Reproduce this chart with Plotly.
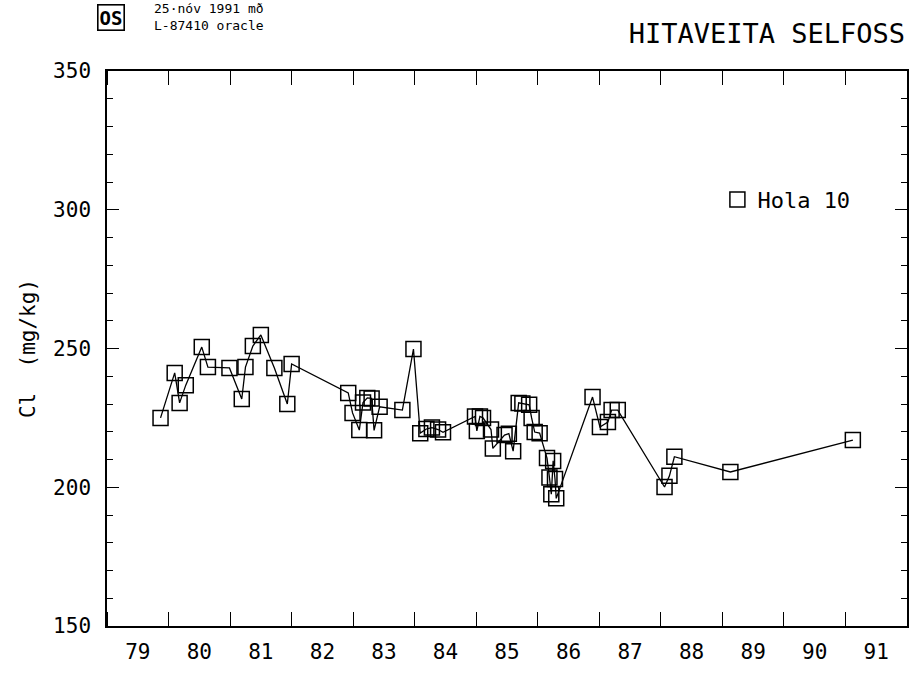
import plotly.graph_objects as go

# Chloride in well "Hola 10", Hitaveita Selfoss (decimal year, mg/kg)
years = [
    1979.87, 1980.10, 1980.18, 1980.28, 1980.54, 1980.64, 1980.99, 1981.19,
    1981.25, 1981.37, 1981.50, 1981.72, 1981.93, 1982.00,
    1982.92, 1982.99, 1983.10, 1983.16, 1983.23, 1983.30, 1983.34, 1983.43,
    1983.80, 1983.98, 1984.09, 1984.19, 1984.28, 1984.38, 1984.46,
    1984.98, 1985.01, 1985.06, 1985.11, 1985.24, 1985.27, 1985.46, 1985.53,
    1985.60, 1985.69, 1985.75, 1985.86, 1985.90, 1985.95, 1986.03,
    1986.15, 1986.19, 1986.22, 1986.25, 1986.28, 1986.30,
    1986.89, 1987.01, 1987.14, 1987.20, 1987.30,
    1988.06, 1988.14, 1988.22, 1989.13, 1991.12,
]
chloride = [
    225.0, 241.2, 230.4, 236.8, 250.5, 243.3, 243.0, 231.8,
    243.3, 250.9, 254.9, 243.0, 230.0, 244.4,
    234.0, 226.8, 220.6, 230.5, 232.2, 232.0, 220.5, 229.0,
    227.8, 249.8, 219.5, 221.0, 221.5, 220.8, 219.8,
    225.5, 220.3, 225.5, 225.0, 220.8, 214.0, 218.8, 219.3,
    213.0, 230.4, 230.2, 229.7, 225.0, 219.9, 219.5,
    210.5, 203.5, 197.5, 209.5, 203.0, 196.0,
    232.5, 221.7, 223.5, 227.8, 227.8,
    200.1, 204.1, 211.0, 205.5, 217.0,
]

year_labels = [str(y) for y in range(79, 92)]
label_pos = [1900 + int(s) + 0.5 for s in year_labels]
y_ticks = [150, 200, 250, 300, 350]

FONT = "DejaVu Sans Mono"
INK = "black"
MARKER = dict(symbol="square-open", size=15, color=INK,
              line=dict(color=INK, width=1.5))

fig = go.Figure()
fig.add_trace(go.Scatter(
    x=years, y=chloride, mode="lines+markers", name="Hola 10",
    line=dict(color=INK, width=1.3), marker=MARKER, showlegend=False,
))
# legend entry shows the symbol alone
fig.add_trace(go.Scatter(
    x=[None], y=[None], mode="markers", name="Hola 10", marker=MARKER,
))

fig.update_layout(
    width=916, height=675,
    margin=dict(l=107, r=7, t=71, b=49),
    paper_bgcolor="white", plot_bgcolor="white",
    font=dict(family=FONT, color=INK, size=21),
    showlegend=True,
    legend=dict(x=0.763, y=0.768, xanchor="left", yanchor="middle",
                bgcolor="rgba(0,0,0,0)", font=dict(size=22)),
    title=dict(text="HITAVEITA SELFOSS", x=0.988, xanchor="right",
               y=0.951, yanchor="middle", font=dict(family=FONT, size=27)),
)

fig.update_xaxes(
    range=[1979, 1992], showgrid=False, zeroline=False,
    showline=True, linecolor=INK, linewidth=1.5, mirror="allticks",
    tickmode="array", tickvals=label_pos, ticktext=year_labels,
    ticks="", ticklabelstandoff=6,
    tickfont=dict(family=FONT, size=21),
    minor=dict(tickmode="linear", tick0=1979, dtick=1, ticks="inside",
               ticklen=14, tickwidth=1.4, tickcolor=INK, showgrid=False),
)
fig.update_yaxes(
    range=[150, 350], showgrid=False, zeroline=False,
    showline=True, linecolor=INK, linewidth=1.5, mirror="allticks",
    tickmode="array", tickvals=y_ticks, ticks="inside", ticklen=12,
    tickwidth=1.4, tickcolor=INK, ticklabelstandoff=10,
    tickfont=dict(family=FONT, size=21),
    minor=dict(tickmode="linear", tick0=150, dtick=10, ticks="inside",
               ticklen=6, tickwidth=1.2, tickcolor=INK, showgrid=False),
    title=dict(text="Cl  (mg/kg)", standoff=12, font=dict(family=FONT, size=21)),
)

# Header block: agency mark and print stamp
fig.add_annotation(
    text="<b>OS</b>", xref="paper", yref="paper", x=-0.013, y=1.097,
    xanchor="left", yanchor="middle", showarrow=False,
    font=dict(family=FONT, size=19, color=INK),
    bordercolor=INK, borderwidth=1.6, borderpad=1,
)
fig.add_annotation(
    text="25·nóv 1991 mð<br>L-87410 oracle", xref="paper", yref="paper",
    x=0.056, y=1.097, xanchor="left", yanchor="middle", align="left",
    showarrow=False, font=dict(family=FONT, size=13, color=INK),
)

fig.write_html("out.html")
